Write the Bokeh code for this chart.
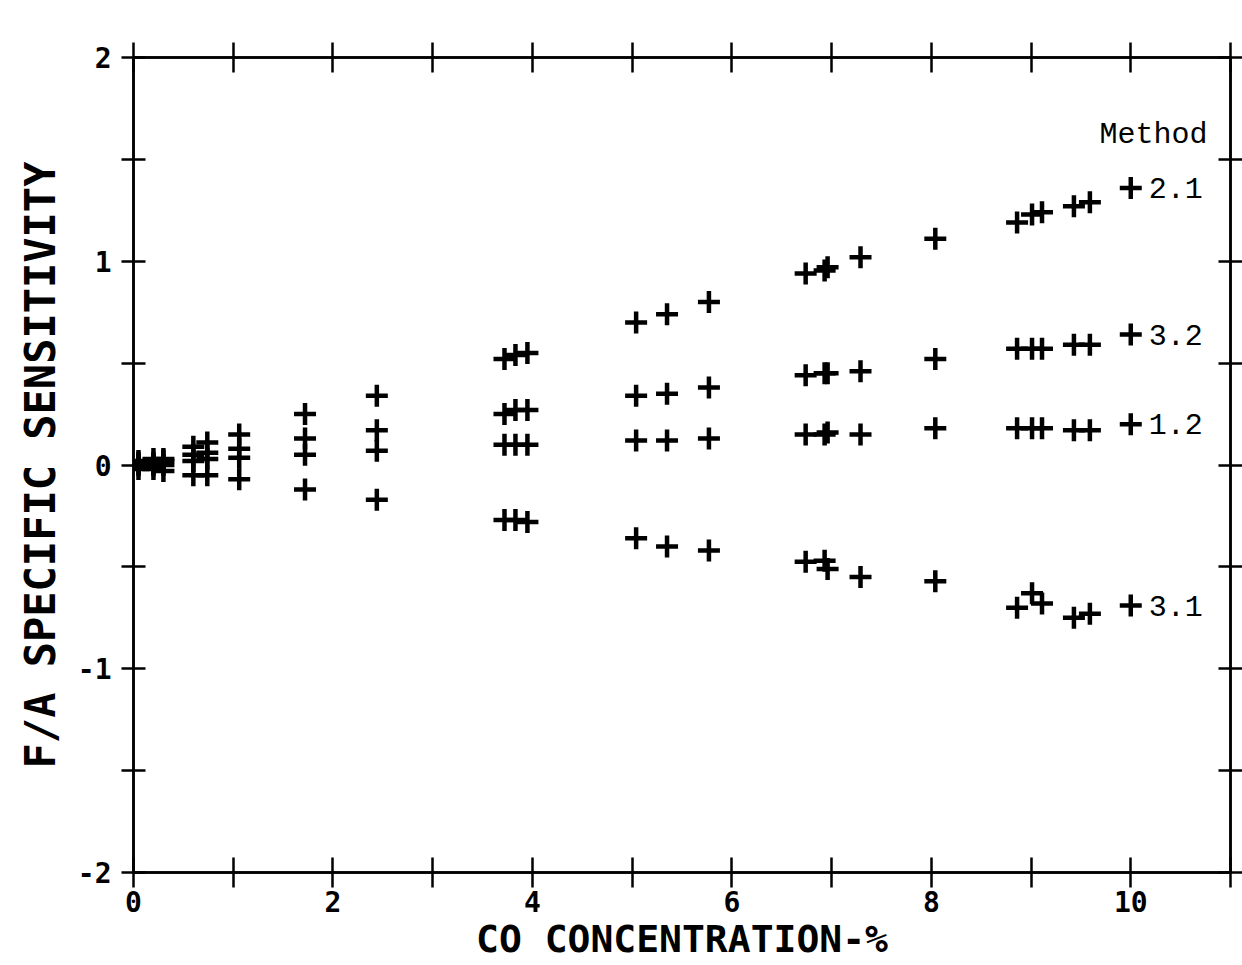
from bokeh.plotting import figure
from bokeh.models import LinearAxis, FixedTicker, Range1d, Label
from bokeh.core.properties import value
from bokeh.embed import file_html
from bokeh.resources import INLINE

# CO concentration (%) for each measurement
x_conc = [0.05, 0.2, 0.3, 0.6, 0.74, 1.06, 1.72, 2.44, 3.72, 3.83, 3.95, 5.04, 5.35, 5.77,
          6.74, 6.93, 6.96, 7.29, 8.04, 8.86, 9.01, 9.11, 9.43, 9.59]
# F/A specific sensitivity per method
m21 = [0.02, 0.03, 0.03, 0.09, 0.11, 0.15, 0.25, 0.34, 0.52, 0.54, 0.55, 0.70, 0.74, 0.80,
       0.94, 0.955, 0.97, 1.02, 1.11, 1.19, 1.23, 1.24, 1.27, 1.29]
m32 = [0.01, 0.01, 0.02, 0.05, 0.06, 0.08, 0.13, 0.17, 0.25, 0.27, 0.27, 0.34, 0.35, 0.38,
       0.44, 0.45, 0.45, 0.46, 0.52, 0.57, 0.57, 0.57, 0.59, 0.59]
m12 = [0.0, 0.0, 0.0, 0.02, 0.03, 0.035, 0.05, 0.07, 0.10, 0.10, 0.10, 0.12, 0.12, 0.13,
       0.15, 0.15, 0.16, 0.15, 0.18, 0.18, 0.18, 0.18, 0.17, 0.17]
m31 = [-0.02, -0.02, -0.03, -0.05, -0.05, -0.07, -0.12, -0.17, -0.27, -0.27, -0.28, -0.36, -0.40, -0.42,
       -0.475, -0.47, -0.51, -0.55, -0.57, -0.70, -0.63, -0.68, -0.75, -0.73]

legend_title = "Method"
legend_labels = ["2.1", "3.2", "1.2", "3.1"]
legend_y = [1.36, 0.64, 0.20, -0.69]
legend_x = 10.0

x_ticks = list(range(0, 12))
x_tick_labels = {0: "0", 2: "2", 4: "4", 6: "6", 8: "8", 10: "10"}
y_ticks = [-2, -1.5, -1, -0.5, 0, 0.5, 1, 1.5, 2]
y_tick_labels = {-2: "-2", -1: "-1", 0: "0", 1: "1", 2: "2"}

p = figure(width=1242, height=965, output_backend="svg", toolbar_location=None,
           x_range=Range1d(0, 11), y_range=Range1d(-2, 2),
           min_border_left=133, min_border_right=10, min_border_top=57, min_border_bottom=93,
           x_axis_label="CO CONCENTRATION-%", y_axis_label="F/A SPECIFIC SENSITIVITY")
p.grid.visible = False
p.outline_line_color = "black"
p.outline_line_width = 2.5
p.background_fill_color = "white"
p.border_fill_color = "white"

def style_axis(ax, ticks, labels, tin, tout, show_labels=True):
    ax.ticker = FixedTicker(ticks=ticks)
    ax.axis_line_color = "black"
    ax.axis_line_width = 2.5
    ax.major_tick_line_color = "black"
    ax.major_tick_line_width = 2.5
    ax.major_tick_in = tin
    ax.major_tick_out = tout
    ax.minor_tick_line_color = None
    if show_labels:
        ov = {}
        for t in ticks:
            ov[t] = labels.get(t, "")
        ax.major_label_overrides = ov
        ax.major_label_text_font = "DejaVu Sans Mono"
        ax.major_label_text_font_style = "bold"
        ax.major_label_text_font_size = "28px"
        ax.major_label_text_color = "black"
    else:
        ax.major_label_text_font_size = "0px"
        ax.major_label_text_color = None

style_axis(p.xaxis[0], x_ticks, x_tick_labels, 15, 15)
style_axis(p.yaxis[0], y_ticks, y_tick_labels, 12, 12)
p.xaxis[0].major_label_standoff = 3
p.yaxis[0].major_label_standoff = 10
for ax in (p.xaxis[0], p.yaxis[0]):
    ax.axis_label_text_font = "DejaVu Sans Mono"
    ax.axis_label_text_font_style = "bold"
    ax.axis_label_text_color = "black"
p.xaxis[0].axis_label_text_font_size = "38px"
p.xaxis[0].axis_label_standoff = 2
p.yaxis[0].axis_label_text_font_size = "42px"
p.yaxis[0].axis_label_standoff = 10

top = LinearAxis()
style_axis(top, x_ticks, {}, 15, 15, show_labels=False)
p.add_layout(top, "above")
right = LinearAxis()
style_axis(right, y_ticks, {}, 12, 12, show_labels=False)
p.add_layout(right, "right")

for ys in (m21, m32, m12, m31):
    p.scatter(x_conc, ys, marker="cross", size=22, line_width=4.5, line_color="black")

p.scatter([legend_x] * len(legend_y), legend_y, marker="cross", size=22, line_width=4.5, line_color="black")
p.text([legend_x + 0.18] * len(legend_y), legend_y, text=legend_labels,
       text_font=value("Liberation Mono"), text_font_size="30px",
       text_baseline="middle", text_align="left", text_color="black")
p.add_layout(Label(x=10.77, y=1.62, text=legend_title, text_font="Liberation Mono",
                   text_font_size="30px", text_align="right", text_baseline="middle",
                   text_color="black"))

open("out.html", "w").write(file_html(p, INLINE))
